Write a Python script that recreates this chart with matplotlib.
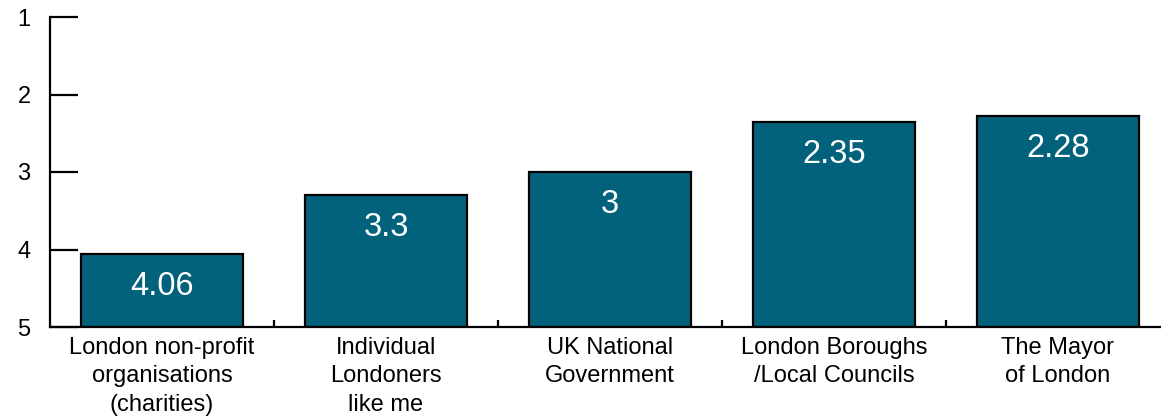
import numpy as np
import matplotlib.pyplot as plt

plt.rcParams['font.family'] = ['Liberation Sans', 'DejaVu Sans']

# 平均排名（1 = 最高）
categories = ['London non-profit\norganisations\n(charities)',
              'Individual\nLondoners\nlike me',
              'UK National\nGovernment',
              'London Boroughs\n/Local Councils',
              'The Mayor\nof London']
scores = [4.06, 3.3, 3, 2.35, 2.28]
score_labels = ['4.06', '3.3', '3', '2.35', '2.28']

fig = plt.figure(figsize=(11.61, 4.17), dpi=100)
ax = fig.add_axes([50 / 1161, 90 / 417, 1 - 50 / 1161, 310 / 417])

x = np.arange(len(categories))
base = 5
# 柱子从5往上画（y轴倒置）
ax.bar(x, [base - s for s in scores], bottom=scores, width=0.72,
       color='#02627b', edgecolor='black', linewidth=1.6, zorder=2)

for xi, s, lab in zip(x, scores, score_labels):
    ax.annotate(lab, (xi, s), xytext=(0, -23.5), textcoords='offset points',
                ha='center', va='center', color='white', fontsize=23.5)

ax.set_ylim(5, 1)
ax.set_xlim(-0.5, 4.46)
ax.set_yticks([1, 2, 3, 4, 5])
ax.set_xticks(x)
ax.set_xticklabels(categories, fontsize=17, linespacing=1.38)
ax.set_xticks(x[:-1] + 0.5, minor=True)

ax.tick_params(axis='y', direction='in', length=20, width=1.6, pad=14,
               labelsize=17)
ax.tick_params(axis='x', which='major', length=0, pad=7)
ax.tick_params(axis='x', which='minor', direction='in', length=5, width=1.6)

for side in ['top', 'right']:
    ax.spines[side].set_visible(False)
for side in ['left', 'bottom']:
    ax.spines[side].set_linewidth(1.6)

fig.savefig('out.png', dpi=100)
